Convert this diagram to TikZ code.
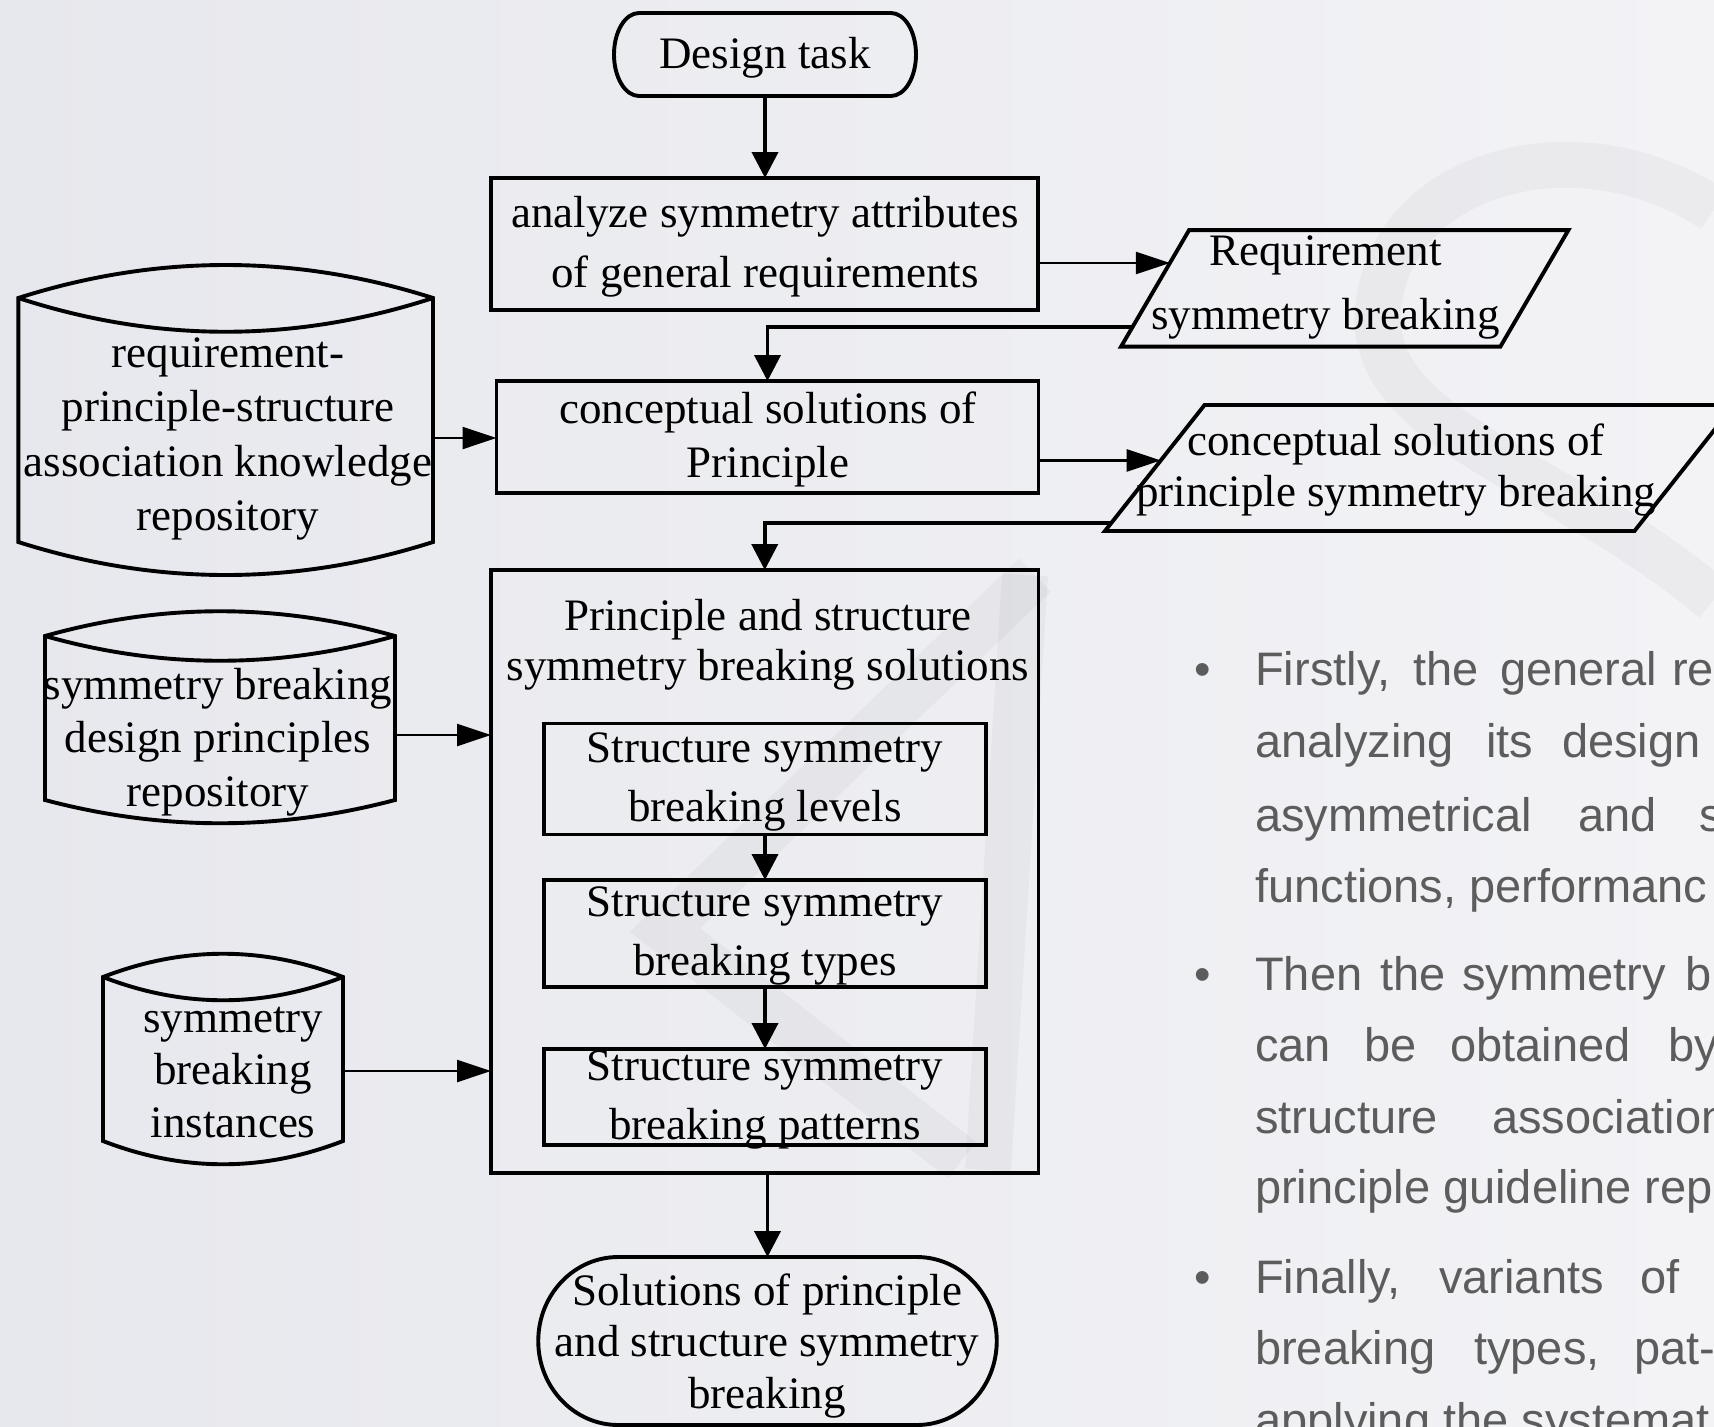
\documentclass[tikz,border=0pt]{standalone}
\usepackage{fontspec}
\setmainfont{Liberation Serif}
\newfontfamily\bodysans{Liberation Sans}
\usetikzlibrary{arrows.meta,calc}

\definecolor{pagebgL}{RGB}{231,232,237}
\definecolor{pagebgR}{RGB}{243,243,246}
\definecolor{bodygray}{RGB}{92,92,92}

% serif label font: 45pt with a given line pitch
\newcommand\serifsize[1]{\fontsize{45}{#1}\selectfont}

\begin{document}
\begin{tikzpicture}[x=1pt,y=1pt,
  plain/.style={rectangle, inner sep=0pt, outer sep=0pt},
  box/.style={plain, draw, line width=3.9pt},
  boxline/.style={line width=3.9pt},
  txt/.style={inner sep=0pt, align=center},
  arr/.style={line width=3.9pt, -{Triangle[length=26pt,width=26pt]}},
  harr/.style={line width=2.4pt, -{Triangle[length=34pt,width=22pt]}},
  body/.style={inner sep=0pt, anchor=base west, text=bodygray,
    font=\bodysans\fontsize{47}{56}\selectfont},
  wm/.style={draw=black, draw opacity=0.032, line width=46pt, line cap=butt},
]
\useasboundingbox (0,0) rectangle (1714,-1427);
\shade[left color=pagebgL, right color=pagebgR] (0,0) rectangle (1714,-1427);
\clip (0,0) rectangle (1714,-1427);

% ---------- faint background mark ----------
\draw[wm] (1025,-575) -- (988,-1170);
\draw[wm] (1035,-575) -- (665,-930) -- (962,-1160);
\draw[wm] (1714,-210) .. controls (1580,-120) and (1390,-170) .. (1378,-310)
  .. controls (1368,-430) and (1560,-470) .. (1714,-600);

% ---------- start terminal ----------
\node[plain, minimum width=302pt, minimum height=83pt] (task) at (765,-54.5) {};
\draw[boxline] ([xshift=25pt]task.north west) -- ([xshift=-25pt]task.north east)
  arc[start angle=90, end angle=-90, x radius=25pt, y radius=41.5pt]
  -- ([xshift=25pt]task.south west)
  arc[start angle=270, end angle=90, x radius=25pt, y radius=41.5pt] -- cycle;
\node[txt, font=\serifsize{50}] (taskT) at (765,-58) {\strut Design task};

% ---------- main process boxes ----------
\node[box, minimum width=547pt, minimum height=132pt] (ana) at (764.5,-244) {};
\node[txt, font=\serifsize{60}] (anaT) at (765,-245)
  {\strut analyze symmetry attributes\\\strut of general requirements};

\node[box, minimum width=542pt, minimum height=112pt] (con) at (767.5,-437) {};
\node[txt, font=\serifsize{54}] (conT) at (768,-439.2)
  {\strut conceptual solutions of\\\strut Principle};

\node[box, minimum width=547.5pt, minimum height=603pt] (big) at (764.75,-871.5) {};
\node[txt, font=\serifsize{50.6}] (bigT) at (768,-645.2)
  {\strut Principle and structure\\\strut symmetry breaking solutions};

\node[box, minimum width=442pt, minimum height=111pt] (lv) at (765,-779) {};
\node[txt, font=\serifsize{59}] (lvT) at (765,-779.7)
  {\strut Structure symmetry\\\strut breaking levels};

\node[box, minimum width=442pt, minimum height=107pt] (ty) at (765,-933.5) {};
\node[txt, font=\serifsize{59}] (tyT) at (765,-933.7)
  {\strut Structure symmetry\\\strut breaking types};

\node[box, minimum width=442pt, minimum height=96pt] (pt) at (765,-1097) {};
\node[txt, font=\serifsize{59}] (ptT) at (765,-1097.7)
  {\strut Structure symmetry\\\strut breaking patterns};

% ---------- end terminal ----------
\node[plain, minimum width=458.5pt, minimum height=168pt] (sol) at (767.5,-1341) {};
\draw[boxline] ([xshift=80pt]sol.north west) -- ([xshift=-80pt]sol.north east)
  arc[start angle=90, end angle=-90, x radius=80pt, y radius=84pt]
  -- ([xshift=80pt]sol.south west)
  arc[start angle=270, end angle=90, x radius=80pt, y radius=84pt] -- cycle;
\node[txt, font=\serifsize{51.5}] (solT) at (767,-1346.25)
  {\strut Solutions of principle\\\strut and structure symmetry\\\strut breaking};

% ---------- data (parallelogram) outputs ----------
\node[plain, minimum width=379.3pt, minimum height=116.5pt] (req) at (1344.7,-288.4) {};
\coordinate (reqTL) at ([xshift=34pt]req.north west);
\coordinate (reqTR) at ([xshift=34pt]req.north east);
\coordinate (reqBR) at ([xshift=-34pt]req.south east);
\coordinate (reqBL) at ([xshift=-34pt]req.south west);
\draw[boxline] (reqTL) -- (reqTR) -- (reqBR) -- (reqBL) -- cycle;
\node[txt, font=\serifsize{64}] (reqT) at (1325.6,-284.8)
  {\strut Requirement\\\strut symmetry breaking};
\coordinate (reqIn) at ($(reqTL)!0.282!(reqBL)$);
\coordinate (reqOut) at ($(reqTL)!0.829!(reqBL)$);

\node[plain, minimum width=529.5pt, minimum height=126pt] (cps) at (1419.5,-468) {};
\coordinate (cpsTL) at ([xshift=49.8pt]cps.north west);
\coordinate (cpsTR) at ([xshift=49.8pt]cps.north east);
\coordinate (cpsBR) at ([xshift=-49.8pt]cps.south east);
\coordinate (cpsBL) at ([xshift=-49.8pt]cps.south west);
\draw[boxline] (cpsTL) -- (cpsTR) -- (cpsBR) -- (cpsBL) -- cycle;
\node[txt, font=\serifsize{51}] (cpsT) at (1396,-470.9)
  {\strut conceptual solutions of\\\strut principle symmetry breaking};
\coordinate (cpsIn) at ($(cpsTL)!0.44!(cpsBL)$);
\coordinate (cpsOut) at ($(cpsTL)!0.94!(cpsBL)$);

% ---------- repositories (drums) ----------
\node[plain, minimum width=414.7pt, minimum height=244pt] (c1) at (225.65,-420) {};
\draw[boxline] (c1.north west) .. controls +(138,44) and +(-138,44) .. (c1.north east)
  -- (c1.south east) .. controls +(-138,-44) and +(138,-44) .. (c1.south west) -- cycle;
\draw[boxline] (c1.north west) .. controls +(138,-45) and +(-138,-45) .. (c1.north east);
\node[txt, font=\serifsize{54.5}] (c1T) at (228,-437.85)
  {\strut requirement-\\\strut principle-structure\\\strut association knowledge\\\strut repository};

\node[plain, minimum width=350pt, minimum height=164pt] (c2) at (220,-718) {};
\draw[boxline] (c2.north west) .. controls +(117,33) and +(-117,33) .. (c2.north east)
  -- (c2.south east) .. controls +(-117,-31) and +(117,-31) .. (c2.south west) -- cycle;
\draw[boxline] (c2.north west) .. controls +(117,-33) and +(-117,-33) .. (c2.north east);
\node[txt, font=\serifsize{53.5}] (c2T) at (218,-741.8)
  {\strut symmetry breaking\\\strut design principles\\\strut repository};

\node[plain, minimum width=240pt, minimum height=164pt] (c3) at (223,-1059) {};
\draw[boxline] (c3.north west) .. controls +(80,31) and +(-80,31) .. (c3.north east)
  -- (c3.south east) .. controls +(-80,-31) and +(80,-31) .. (c3.south west) -- cycle;
\draw[boxline] (c3.north west) .. controls +(80,-31) and +(-80,-31) .. (c3.north east);
\node[txt, font=\serifsize{52.5}] (c3T) at (233,-1074)
  {\strut symmetry\\\strut breaking\\\strut instances};

% ---------- connectors ----------
\draw[arr] (task.south) -- (task.south |- ana.north);
\draw[harr] (ana.east |- reqIn) -- (reqIn);
\draw[arr] (reqOut) -| (con.north);
\draw[harr] (con.east |- cpsIn) -- (cpsIn);
\draw[arr] (cpsOut) -| (big.north);
\draw[arr] (lv.south) -- (ty.north);
\draw[arr] (ty.south) -- (pt.north);
\draw[arr] (sol.north |- big.south) -- (sol.north);
\draw[harr] ([yshift=-18pt]c1.east) -- ([yshift=-18pt]c1.east -| con.west);
\draw[harr] ([yshift=-17pt]c2.east) -- ([yshift=-17pt]c2.east -| big.west);
\draw[harr] ([yshift=-12pt]c3.east) -- ([yshift=-12pt]c3.east -| big.west);

% ---------- bullet text ----------
\node[body] (d1) at (1194,-685) {•};
\node[body] (d2) at (1194,-990) {•};
\node[body] (d3) at (1194,-1293) {•};

\node[body] (w1a) at (1255,-685) {Firstly,};
\node[body] (w1b) at (1413,-685) {the};
\node[body] (w1c) at (1500,-685) {general};
\node[body] (w1d) at (1672,-685) {re};

\node[body] (w2a) at (1255,-757) {analyzing};
\node[body] (w2b) at (1486,-757) {its};
\node[body] (w2c) at (1562,-757) {design};

\node[body] (w3a) at (1255,-831) {asymmetrical};
\node[body] (w3b) at (1578,-831) {and};
\node[body] (w3c) at (1699,-831) {s};

\node[body] (w4a) at (1255,-902) {functions, performanc};

\node[body] (w5a) at (1255,-990) {Then};
\node[body] (w5b) at (1380,-990) {the};
\node[body] (w5c) at (1462,-990) {symmetry};
\node[body] (w5d) at (1685,-990) {b};

\node[body] (w6a) at (1255,-1061) {can};
\node[body] (w6b) at (1364,-1061) {be};
\node[body] (w6c) at (1450,-1061) {obtained};
\node[body] (w6d) at (1668,-1061) {by};

\node[body] (w7a) at (1255,-1133) {structure};
\node[body] (w7b) at (1492,-1133) {association};

\node[body] (w8a) at (1255,-1203) {principle guideline rep};

\node[body] (w9a) at (1255,-1293) {Finally,};
\node[body] (w9b) at (1439,-1293) {variants};
\node[body] (w9c) at (1640,-1293) {of};

\node[body] (w10a) at (1255,-1364) {breaking};
\node[body] (w10b) at (1474,-1364) {types,};
\node[body] (w10c) at (1634,-1364) {pat-};

\node[body] (w11a) at (1255,-1436) {applying the systemat};
\end{tikzpicture}
\end{document}
